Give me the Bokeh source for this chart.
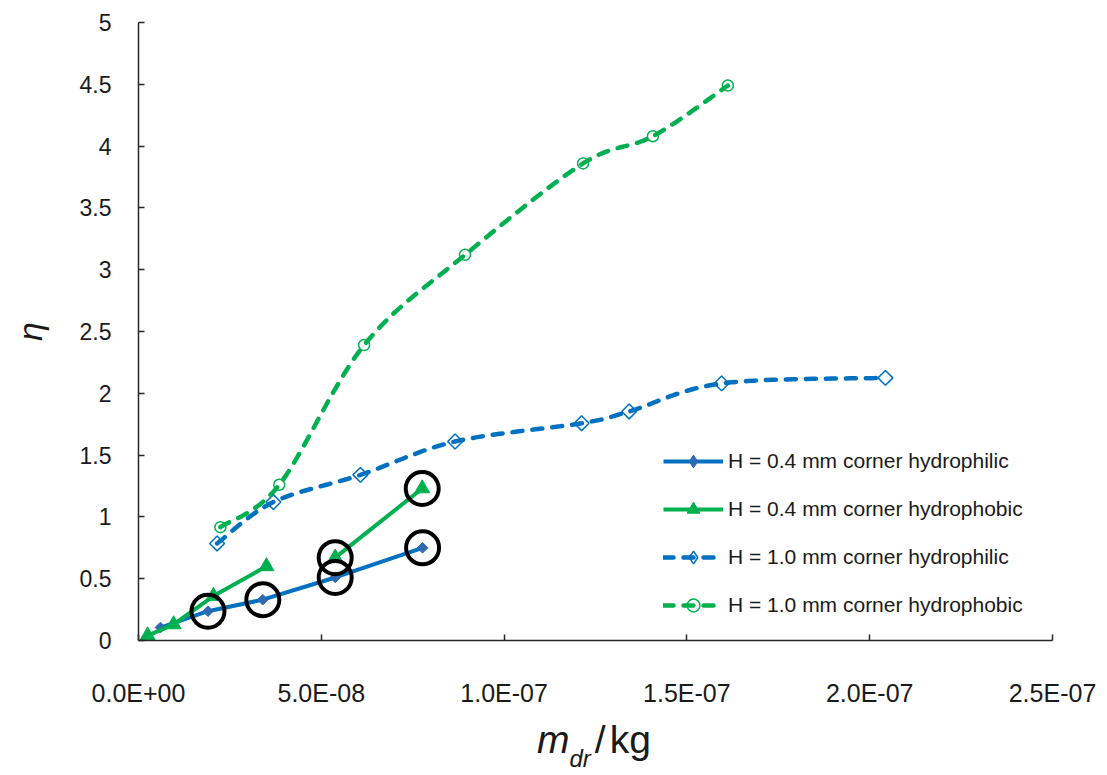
import numpy as np
from bokeh.plotting import figure
from bokeh.layouts import column
from bokeh.models import (Range1d, FixedTicker, CustomJSTickFormatter, Legend,
                          LegendItem, Div, LinearAxis)
from bokeh.embed import file_html
from bokeh.resources import INLINE

# ---- data: droplet mass m_dr (kg) vs. eta ----
# H = 0.4 mm, hydrophilic corner
m_04_philic = [0.6e-8, 1.9e-8, 3.4e-8, 5.38e-8, 7.77e-8]
eta_04_philic = [0.105, 0.237, 0.33, 0.51, 0.75]

# H = 0.4 mm, hydrophobic corner (line interrupted between 3.5E-8 and 5.4E-8)
m_04_phobic = [0.25e-8, 0.96e-8, 2.05e-8, 3.5e-8, np.nan, 5.38e-8, 7.76e-8]
eta_04_phobic = [0.04, 0.13, 0.36, 0.6, np.nan, 0.67, 1.23]

# H = 1.0 mm, hydrophilic corner
m_10_philic = [2.15e-8, 3.69e-8, 6.07e-8, 8.66e-8, 12.12e-8, 13.42e-8, 15.95e-8, 20.43e-8]
eta_10_philic = [0.785, 1.12, 1.34, 1.61, 1.758, 1.853, 2.08, 2.125]

# H = 1.0 mm, hydrophobic corner
m_10_phobic = [2.24e-8, 3.85e-8, 6.17e-8, 8.93e-8, 12.16e-8, 14.07e-8, 16.12e-8]
eta_10_phobic = [0.917, 1.26, 2.39, 3.12, 3.86, 4.08, 4.49]

# circled points
mark_m = [1.9e-8, 3.4e-8, 5.38e-8, 5.38e-8, 7.77e-8, 7.76e-8]
mark_eta = [0.237, 0.33, 0.51, 0.67, 0.75, 1.23]

x_ticks = [0.0, 5e-8, 1e-7, 1.5e-7, 2e-7, 2.5e-7]
y_ticks = [0, 0.5, 1, 1.5, 2, 2.5, 3, 3.5, 4, 4.5, 5]

BLUE = "#0070C0"
BLUE_DARK = "#2F6AB3"
GREEN = "#00B050"
TEXT = "#1a1a1a"
FONT = "'Liberation Sans', Arial, sans-serif"

FRAME_W, FRAME_H = 914, 618
X_MAX, Y_MAX = 2.5e-7, 5.0


def smooth(xs, ys, n=30):
    """Smoothed curve (cubic Bezier through the points), computed in screen space."""
    sx, sy = FRAME_W / X_MAX, FRAME_H / Y_MAX
    P = np.column_stack([np.asarray(xs) * sx, np.asarray(ys) * sy])
    out = [P[0]]
    t = np.linspace(0, 1, n)[1:, None]
    for i in range(len(P) - 1):
        p0 = P[i - 1] if i > 0 else P[i]
        p1, p2 = P[i], P[i + 1]
        p3 = P[i + 2] if i + 2 < len(P) else P[i + 1]
        c1 = p1 + (p2 - p0) / 6.0
        c2 = p2 - (p3 - p1) / 6.0
        seg = (1 - t) ** 3 * p1 + 3 * (1 - t) ** 2 * t * c1 + 3 * (1 - t) * t ** 2 * c2 + t ** 3 * p2
        out.extend(seg)
    out = np.array(out)
    return out[:, 0] / sx, out[:, 1] / sy


p = figure(frame_width=FRAME_W, frame_height=FRAME_H,
           min_border_left=138, min_border_right=55,
           min_border_top=22, min_border_bottom=75,
           x_range=Range1d(0, X_MAX), y_range=Range1d(0, Y_MAX),
           output_backend="svg", toolbar_location=None,
           background_fill_color="white", border_fill_color="white")
p.outline_line_color = None
p.grid.visible = False

# axes
for ax in (p.xaxis[0], p.yaxis[0]):
    ax.axis_line_color = "#262626"
    ax.axis_line_width = 1.5
    ax.major_tick_line_color = "#262626"
    ax.major_tick_line_width = 1.5
    ax.major_tick_in = 6
    ax.major_tick_out = 0
    ax.minor_tick_line_color = None
    ax.major_label_text_color = TEXT

p.xaxis.ticker = FixedTicker(ticks=x_ticks)
p.xaxis.formatter = CustomJSTickFormatter(code="""
    const parts = tick.toExponential(1).split('e');
    let e = parseInt(parts[1]);
    const sign = e < 0 ? '-' : '+';
    e = Math.abs(e);
    return parts[0] + 'E' + sign + (e < 10 ? '0' : '') + e;
""")
p.xaxis.major_label_text_font = FONT
p.xaxis.major_label_text_font_size = "25px"
p.xaxis.major_label_standoff = 38

p.yaxis.ticker = FixedTicker(ticks=y_ticks)
p.yaxis.major_label_text_font = FONT
p.yaxis.major_label_text_font_size = "23px"
p.yaxis.major_label_standoff = 27

# y title on a bare outer axis
eta_axis = LinearAxis(ticker=FixedTicker(ticks=[]),
                      axis_line_color=None, major_tick_line_color=None,
                      minor_tick_line_color=None)
eta_axis.axis_label = "η"
eta_axis.axis_label_text_font = FONT
eta_axis.axis_label_text_font_style = "italic"
eta_axis.axis_label_text_font_size = "34px"
eta_axis.axis_label_text_color = TEXT
eta_axis.axis_label_text_align = "right"
eta_axis.axis_label_standoff = 28
p.add_layout(eta_axis, "left")

# series
r1l = p.line(m_04_philic, eta_04_philic, line_color=BLUE, line_width=4)
r1m = p.scatter(m_04_philic, eta_04_philic, marker="square", angle=np.pi / 4, size=7.5,
                fill_color=BLUE_DARK, line_color=BLUE_DARK, line_width=1)

r2l = p.line(m_04_phobic, eta_04_phobic, line_color=GREEN, line_width=4)
r2m = p.scatter(m_04_phobic, eta_04_phobic, marker="triangle", size=15,
                fill_color=GREEN, line_color=GREEN)

sx3, sy3 = smooth(m_10_philic, eta_10_philic)
r3l = p.line(sx3, sy3, line_color=BLUE, line_width=4.5, line_dash="10 10", line_cap="round")
r3m = p.scatter(m_10_philic, eta_10_philic, marker="square", angle=np.pi / 4, size=10.5,
                fill_color=None, line_color=BLUE, line_width=1.5)

sx4, sy4 = smooth(m_10_phobic, eta_10_phobic)
r4l = p.line(sx4, sy4, line_color=GREEN, line_width=4.5, line_dash="10 10", line_cap="round")
r4m = p.scatter(m_10_phobic, eta_10_phobic, marker="circle", size=11,
                fill_color=None, line_color=GREEN, line_width=1.5)

# diamond symbols for the legend keys (legend keys are drawn unrotated)
k1 = p.scatter(m_04_philic, eta_04_philic, marker="diamond", fill_color=BLUE_DARK,
               line_color=BLUE_DARK, visible=False)
k3 = p.scatter(m_10_philic, eta_10_philic, marker="diamond", fill_color=None,
               line_color=BLUE, line_width=1.5, visible=False)

# highlighted points
p.scatter(mark_m, mark_eta, marker="circle", size=33, fill_color=None,
          line_color="black", line_width=4)

legend = Legend(items=[
    LegendItem(label="H = 0.4 mm corner hydrophilic", renderers=[r1l, k1]),
    LegendItem(label="H = 0.4 mm corner hydrophobic", renderers=[r2l, r2m]),
    LegendItem(label="H = 1.0 mm corner hydrophilic", renderers=[r3l, k3]),
    LegendItem(label="H = 1.0 mm corner hydrophobic", renderers=[r4l, r4m]),
], location=(525, 19))
legend.glyph_width = 60
legend.glyph_height = 32
legend.label_height = 32
legend.label_standoff = 5
legend.spacing = 16
legend.padding = 0
legend.margin = 0
legend.border_line_color = None
legend.background_fill_alpha = 0
legend.label_text_font = FONT
legend.label_text_font_size = "21px"
legend.label_text_color = TEXT
p.add_layout(legend, "center")

# x-axis title with italic symbol and subscript
x_title = Div(
    text=("<div style=\"font-family:'Liberation Sans',Arial,sans-serif;font-size:39px;"
          "line-height:39px;color:#1a1a1a;white-space:nowrap;padding:5px 0 0 537px;\">"
          "<i>m</i><i style=\"font-size:24px;position:relative;top:14px;\">dr</i>"
          "<span style=\"margin-left:4px;\">/</span>"
          "<span style=\"margin-left:4px;\">kg</span></div>"),
    width=1107, height=60, margin=0)

layout = column(p, x_title, spacing=0)
open("out.html", "w").write(file_html(layout, INLINE))
